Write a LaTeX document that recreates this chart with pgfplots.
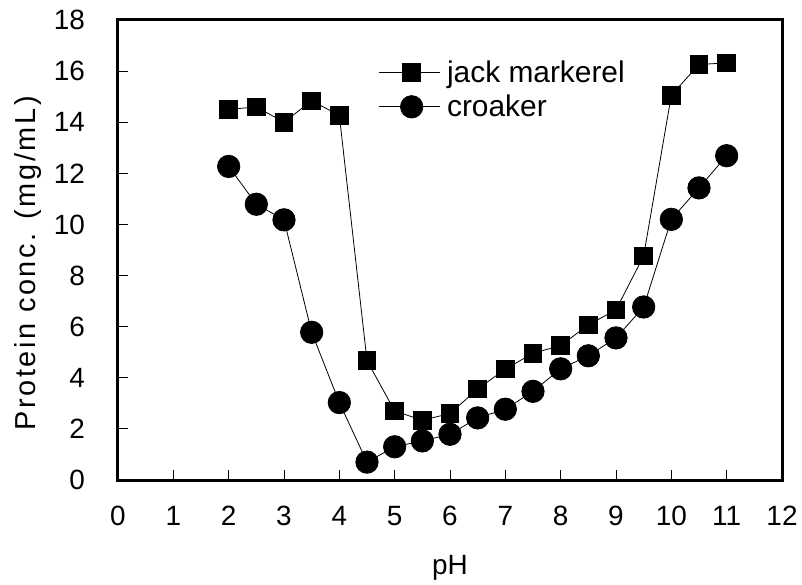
\documentclass[border=0pt]{standalone}
\usepackage{fontspec}
\setmainfont{Liberation Sans}
\usepackage{pgfplots}
\pgfplotsset{compat=1.18}
\newfontfamily\ylabfont[LetterSpace=9]{Liberation Sans}
\begin{document}
\begin{tikzpicture}
\path[use as bounding box] (-118bp,-105bp) rectangle (684bp,480bp);
\begin{axis}[
  scale only axis,
  width=664bp, height=460bp,
  xmin=0, xmax=12, ymin=0, ymax=18,
  xtick={0,1,...,12}, ytick={0,2,...,18},
  tick align=inside,
  xtick pos=bottom, ytick pos=left,
  major tick length=10bp,
  tick style={line width=0.8bp, black},
  axis line style={line width=3bp},
  /pgf/number format/assume math mode=true,
  tick label style={font=\fontsize{28}{28}\selectfont},
  xticklabel style={anchor=north, yshift=-23bp},
  yticklabel style={anchor=east, inner xsep=33bp},
  xlabel={pH},
  ylabel={Protein conc. (mg/mL)},
  xlabel style={font=\fontsize{28}{28}\selectfont, at={(axis description cs:0.5,-0.191)}, anchor=center},
  ylabel style={font=\ylabfont\fontsize{29}{29}\selectfont, at={(axis description cs:-0.136,0.471)}, anchor=center, rotate=0},
  legend style={draw=none, fill=none, font=\fontsize{30}{30}\selectfont,
    at={(axis description cs:0.392,0.915)}, anchor=north west,
    row sep=7bp, inner sep=0pt, outer sep=0pt},
  legend cell align=left,
  legend image code/.code={%
    \draw[mark repeat=2,mark phase=2] plot coordinates {(0bp,0bp) (33bp,0bp) (61bp,0bp)};
    \path (66bp,0bp);},
]
\addplot[black, line width=0.8bp, mark=square*, mark size=8.8bp, mark options={solid}] coordinates {
(2,14.5)(2.5,14.6)(3,14.0)(3.5,14.84)(4,14.27)(4.5,4.67)(5,2.7)(5.5,2.34)(6,2.6)
(6.5,3.56)(7,4.34)(7.5,4.96)(8,5.26)(8.5,6.07)(9,6.66)(9.5,8.77)(10,15.06)(10.5,16.26)(11,16.32)};
\addlegendentry{jack markerel}
\addplot[black, line width=0.8bp, mark=*, mark size=11.2bp, mark options={solid}] coordinates {
(2,12.27)(2.5,10.79)(3,10.18)(3.5,5.78)(4,3.03)(4.5,0.70)(5,1.30)(5.5,1.53)(6,1.79)
(6.5,2.43)(7,2.77)(7.5,3.47)(8,4.35)(8.5,4.86)(9,5.56)(9.5,6.77)(10,10.2)(10.5,11.43)(11,12.69)};
\addlegendentry{croaker}
\end{axis}
\end{tikzpicture}
\end{document}
